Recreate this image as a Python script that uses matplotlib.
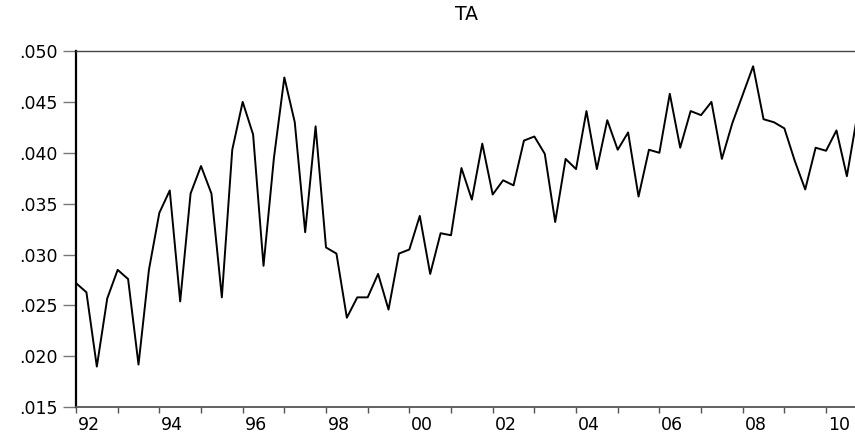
import numpy as np
import matplotlib
matplotlib.use("Agg")
import matplotlib.pyplot as plt
import matplotlib.transforms as mtransforms

# quarterly series, 1992Q1 - 2010Q4
ta = [0.0272, 0.0263, 0.0190, 0.0257, 0.0285, 0.0276, 0.0192, 0.0285,
      0.0341, 0.0363, 0.0254, 0.0360, 0.0387, 0.0360, 0.0258, 0.0403,
      0.0450, 0.0418, 0.0289, 0.0395, 0.0474, 0.0430, 0.0322, 0.0426,
      0.0307, 0.0301, 0.0238, 0.0258, 0.0258, 0.0281, 0.0246, 0.0301,
      0.0305, 0.0338, 0.0281, 0.0321, 0.0319, 0.0385, 0.0354, 0.0409,
      0.0359, 0.0373, 0.0368, 0.0412, 0.0416, 0.0399, 0.0332, 0.0394,
      0.0384, 0.0441, 0.0384, 0.0432, 0.0403, 0.0420, 0.0357, 0.0403,
      0.0400, 0.0458, 0.0405, 0.0441, 0.0437, 0.0450, 0.0394, 0.0429,
      0.0457, 0.0485, 0.0433, 0.0430, 0.0424, 0.0392, 0.0364, 0.0405,
      0.0402, 0.0422, 0.0377, 0.0437]
start_year = 1992
years = np.arange(1992, 2011)
year_labels = ["%02d" % (y % 100) if y % 2 == 0 else "" for y in years]
y_ticks = [0.015, 0.020, 0.025, 0.030, 0.035, 0.040, 0.045, 0.050]

x = start_year + np.arange(len(ta)) / 4.0

# wide sans face, closest to the stretched EViews lettering
plt.rcParams['font.family'] = ['DejaVu Sans']

fig = plt.figure(figsize=(8.55, 4.36), dpi=100)
# axes placed in pixel terms; right edge runs just past the picture
ax = fig.add_axes([76 / 855, 28.7 / 436, 781.3 / 855, 356.3 / 436])

ax.plot(x, ta, color='black', linewidth=1.4)

ax.set_xlim(1992, 2010.75)
ax.set_ylim(0.015, 0.050)

ax.set_yticks(y_ticks)
ax.set_yticklabels([("%.3f" % v)[1:] for v in y_ticks])
ax.set_xticks(years)
ax.set_xticklabels(year_labels)

ax.tick_params(axis='y', direction='out', length=9.5, width=1, color='#777777',
               labelsize=12.5, pad=4)
ax.tick_params(axis='x', direction='out', length=4.5, width=1, color='#555555',
               labelsize=12.5, pad=2)

# labels sit just right of their tick, EViews style
offset = mtransforms.ScaledTranslation(2 / 100, 0, fig.dpi_scale_trans)
for lab in ax.get_xticklabels():
    lab.set_horizontalalignment('left')
    lab.set_transform(lab.get_transform() + offset)

ax.spines['left'].set_color('black')
ax.spines['left'].set_linewidth(1.6)
ax.spines['bottom'].set_color('#555555')
ax.spines['bottom'].set_linewidth(1.3)
ax.spines['top'].set_color('#444444')
ax.spines['top'].set_linewidth(1.0)
ax.spines['right'].set_visible(False)

ax.set_title('TA', fontsize=13.5, pad=22)

fig.savefig('out.png', dpi=100)
